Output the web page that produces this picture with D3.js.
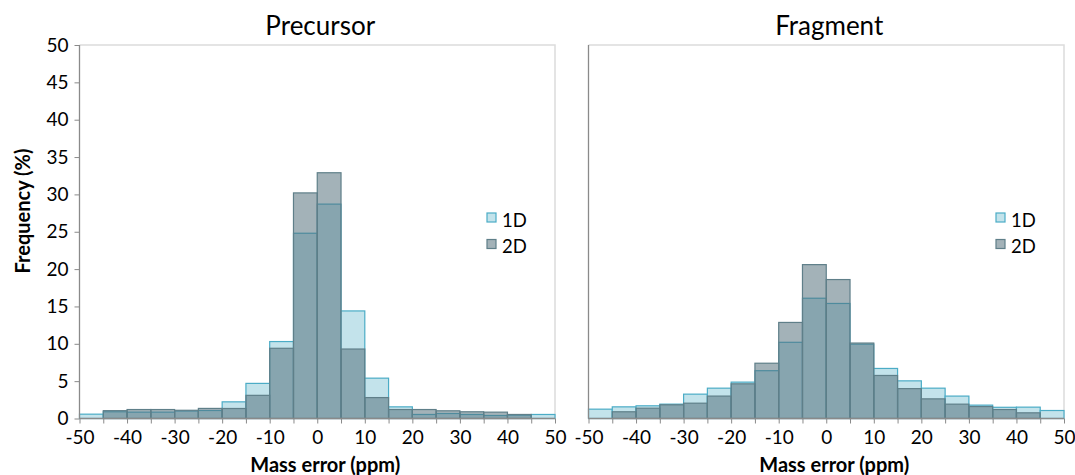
<!DOCTYPE html>
<html><head><meta charset="utf-8">
<script src="https://cdn.jsdelivr.net/npm/d3@7"></script>
<style>body{margin:0;background:#fff}svg{display:block;font-family:Lato,"Open Sans",sans-serif}</style>
</head><body><svg id="c" width="1075" height="475"></svg>
<script>
const binStart = [-50,-45,-40,-35,-30,-25,-20,-15,-10,-5,0,5,10,15,20,25,30,35,40,45];
const binWidth = 5;
const xTickValues = [-50,-45,-40,-35,-30,-25,-20,-15,-10,-5,0,5,10,15,20,25,30,35,40,45,50];
const xTickLabels = [-50,-40,-30,-20,-10,0,10,20,30,40,50];
const yTickValues = [0,5,10,15,20,25,30,35,40,45,50];
const seriesNames = ["1D","2D"];
const precursor1D = [0.58,0.9,0.85,0.85,1.0,1.07,2.23,4.7,10.3,24.8,28.7,14.4,5.4,1.56,0.54,0.67,0.54,0.4,0.45,0.54];
const precursor2D = [0,1.05,1.2,1.2,1.1,1.35,1.34,3.1,9.4,30.2,32.9,9.3,2.8,1.2,1.2,1.03,0.9,0.85,0.54,0];
const fragment1D = [1.25,1.56,1.7,1.92,3.26,4.06,4.87,6.4,10.2,16.1,15.4,9.95,6.7,5.04,4.06,3.0,1.79,1.5,1.52,1.07];
const fragment2D = [0,0.9,1.38,1.83,2.05,3.0,4.64,7.4,12.86,20.6,18.6,10.1,5.76,4.0,2.63,1.92,1.6,1.2,0.76,0];

const svg = d3.select("#c");
const style = {
  fill1: "#c3e3eb", stroke1: "#4bacc6",
  fill2: "rgb(81,109,120)", op2: 0.53, stroke2: "#5f7f89",
  axis: "#8a8a8a", frame: "#dcdcdc"
};

const panels = [
  {title:"Precursor", x0:79.5, x1:555, d1:precursor1D, d2:precursor2D, yLabels:true, legX:487},
  {title:"Fragment", x0:588.5, x1:1064, d1:fragment1D, d2:fragment2D, yLabels:false, legX:996}
];
const yTop = 45, yBot = 418.5;

panels.forEach(p => {
  const x = d3.scaleLinear().domain([-50,50]).range([p.x0,p.x1]);
  const y = d3.scaleLinear().domain([0,50]).range([yBot,yTop]);
  const g = svg.append("g");
  g.append("path").attr("d",`M${p.x0},${yTop}H${p.x1}V${yBot}`).attr("fill","none").attr("stroke",style.frame).attr("stroke-width",1.5);
  g.selectAll(".b1").data(binStart.map((s,i)=>({s,v:p.d1[i]})).filter(d=>d.v>0)).join("rect")
    .attr("x",d=>x(d.s)).attr("width",d=>x(d.s+binWidth)-x(d.s))
    .attr("y",d=>y(d.v)).attr("height",d=>y(0)-y(d.v))
    .attr("fill",style.fill1).attr("stroke",style.stroke1).attr("stroke-width",1.2);
  g.selectAll(".b2").data(binStart.map((s,i)=>({s,v:p.d2[i]})).filter(d=>d.v>0)).join("rect")
    .attr("x",d=>x(d.s)).attr("width",d=>x(d.s+binWidth)-x(d.s))
    .attr("y",d=>y(d.v)).attr("height",d=>y(0)-y(d.v))
    .attr("fill",style.fill2).attr("fill-opacity",style.op2).attr("stroke",style.stroke2).attr("stroke-width",1.2);
  const ya = g.append("g").attr("transform",`translate(${p.x0},0)`)
    .call(d3.axisLeft(y).tickValues(yTickValues).tickSize(p.yLabels?5:0).tickPadding(6).tickFormat(p.yLabels?d3.format("d"):()=>""));
  ya.select(".domain").attr("stroke",style.axis).attr("stroke-width",1.3).attr("d",`M0,${yTop}V${yBot}`);
  ya.selectAll("line").attr("stroke",style.axis);
  ya.selectAll("text").attr("font-size",19).attr("fill","#000").attr("font-family","Lato,sans-serif");
  const xa = g.append("g").attr("transform",`translate(0,${yBot})`)
    .call(d3.axisBottom(x).tickValues(xTickValues).tickSize(5).tickPadding(7).tickFormat(d=>xTickLabels.includes(d)?d3.format("d")(d).replace("−","-"):""));
  xa.select(".domain").attr("stroke",style.axis).attr("stroke-width",1.3).attr("d",`M${p.x0},0H${p.x1}`);
  xa.selectAll("line").attr("stroke",style.axis);
  xa.selectAll("text").attr("font-size",19).attr("fill","#000").attr("font-family","Lato,sans-serif");
  g.append("text").attr("x",(p.x0+p.x1)/2+3).attr("y",35).attr("text-anchor","middle")
    .attr("font-size",26).text(p.title);
  g.append("text").attr("x",(p.x0+p.x1)/2+8).attr("y",472).attr("text-anchor","middle")
    .attr("font-size",20).attr("font-weight","bold").text("Mass error (ppm)");
  const cols = [[style.fill1,1,style.stroke1],[style.fill2,style.op2,style.stroke2]];
  seriesNames.forEach((n,i)=>{
    const ly = 213 + i*26.5;
    g.append("rect").attr("x",p.legX).attr("y",ly).attr("width",9).attr("height",9)
      .attr("fill",cols[i][0]).attr("fill-opacity",cols[i][1]).attr("stroke",cols[i][2]).attr("stroke-width",1.2);
    g.append("text").attr("x",p.legX+15).attr("y",ly+13.5).attr("font-size",18.5).text(n);
  });
});
svg.append("text").attr("transform","translate(30,211) rotate(-90)").attr("text-anchor","middle")
  .attr("font-size",20).attr("font-weight","bold").text("Frequency (%)");
</script></body></html>
